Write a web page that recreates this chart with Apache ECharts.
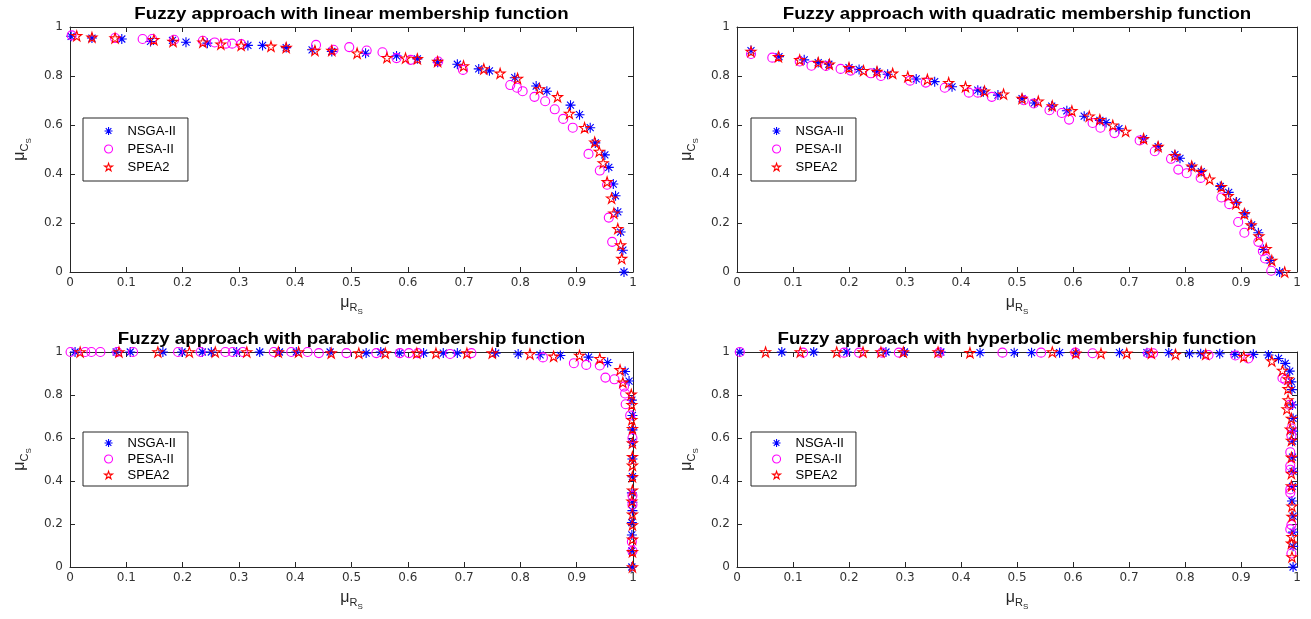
<!DOCTYPE html>
<html>
<head>
<meta charset="utf-8">
<script src="https://cdn.jsdelivr.net/npm/echarts@6/dist/echarts.min.js"></script>
<style>
html,body{margin:0;padding:0;background:#fff;}
#chart{width:1311px;height:619px;}
</style>
</head>
<body>
<div id="chart"></div>
<script>
// ---------- data ----------
const seriesNames = ['NSGA-II', 'PESA-II', 'SPEA2'];
const panelTitles = [
  'Fuzzy approach with linear membership function',
  'Fuzzy approach with quadratic membership function',
  'Fuzzy approach with parabolic membership function',
  'Fuzzy approach with hyperbolic membership function'
];
const xTickInterval = 0.1;
const yTickInterval = 0.2;

const linearNSGA = [[0.002,0.962],[0.039,0.955],[0.092,0.951],[0.143,0.941],[0.182,0.945],[0.206,0.938],[0.244,0.934],[0.316,0.925],[0.342,0.925],[0.384,0.916],[0.430,0.907],[0.465,0.900],[0.525,0.893],[0.580,0.882],[0.617,0.870],[0.653,0.856],[0.688,0.848],[0.726,0.829],[0.745,0.821],[0.790,0.793],[0.828,0.759],[0.847,0.738],[0.889,0.681],[0.905,0.642],[0.924,0.589],[0.933,0.527],[0.950,0.478],[0.957,0.427],[0.965,0.359],[0.969,0.311],[0.973,0.245],[0.978,0.163],[0.982,0.089],[0.984,0.000]];
const linearPESA = [[0.003,0.966],[0.080,0.955],[0.129,0.951],[0.146,0.951],[0.185,0.948],[0.236,0.944],[0.257,0.937],[0.277,0.932],[0.288,0.932],[0.304,0.930],[0.437,0.927],[0.468,0.907],[0.496,0.918],[0.527,0.904],[0.555,0.897],[0.580,0.873],[0.605,0.866],[0.654,0.859],[0.698,0.825],[0.782,0.763],[0.794,0.752],[0.804,0.738],[0.825,0.715],[0.844,0.697],[0.861,0.664],[0.876,0.625],[0.893,0.589],[0.921,0.482],[0.941,0.414],[0.954,0.356],[0.957,0.222],[0.963,0.123]];
const linearSPEA = [[0.012,0.964],[0.039,0.958],[0.080,0.955],[0.149,0.948],[0.183,0.941],[0.236,0.938],[0.268,0.930],[0.304,0.925],[0.357,0.921],[0.384,0.916],[0.435,0.904],[0.465,0.904],[0.510,0.893],[0.563,0.875],[0.596,0.873],[0.617,0.870],[0.653,0.859],[0.699,0.841],[0.735,0.829],[0.764,0.811],[0.795,0.790],[0.834,0.747],[0.866,0.715],[0.887,0.647],[0.914,0.589],[0.932,0.530],[0.940,0.492],[0.947,0.445],[0.954,0.368],[0.962,0.301],[0.966,0.240],[0.973,0.177],[0.978,0.110],[0.980,0.055]];

const quadNSGA = [[0.025,0.904],[0.075,0.879],[0.120,0.866],[0.145,0.855],[0.164,0.848],[0.200,0.834],[0.218,0.827],[0.250,0.818],[0.269,0.807],[0.320,0.788],[0.353,0.777],[0.384,0.756],[0.430,0.742],[0.440,0.736],[0.466,0.722],[0.509,0.708],[0.531,0.690],[0.562,0.677],[0.589,0.658],[0.620,0.636],[0.648,0.619],[0.659,0.610],[0.682,0.585],[0.726,0.544],[0.752,0.512],[0.782,0.479],[0.791,0.464],[0.812,0.432],[0.829,0.410],[0.863,0.349],[0.878,0.325],[0.892,0.286],[0.907,0.238],[0.919,0.192],[0.931,0.160],[0.940,0.092],[0.952,0.047],[0.969,0.000]];
const quadPESA = [[0.025,0.890],[0.063,0.875],[0.112,0.859],[0.133,0.842],[0.159,0.841],[0.185,0.829],[0.203,0.822],[0.239,0.811],[0.257,0.800],[0.309,0.781],[0.337,0.773],[0.371,0.752],[0.414,0.732],[0.430,0.732],[0.455,0.715],[0.512,0.701],[0.530,0.688],[0.558,0.660],[0.580,0.649],[0.593,0.622],[0.635,0.608],[0.649,0.589],[0.674,0.567],[0.719,0.537],[0.746,0.493],[0.775,0.462],[0.788,0.418],[0.803,0.403],[0.828,0.384],[0.865,0.304],[0.879,0.277],[0.895,0.204],[0.906,0.160],[0.931,0.123],[0.939,0.085],[0.943,0.055],[0.954,0.005]];
const quadSPEA = [[0.025,0.900],[0.074,0.879],[0.112,0.866],[0.145,0.855],[0.165,0.848],[0.200,0.834],[0.226,0.822],[0.250,0.818],[0.278,0.811],[0.305,0.797],[0.340,0.786],[0.378,0.773],[0.408,0.756],[0.442,0.738],[0.476,0.726],[0.509,0.708],[0.538,0.697],[0.563,0.678],[0.598,0.658],[0.629,0.636],[0.648,0.622],[0.671,0.599],[0.694,0.574],[0.726,0.544],[0.752,0.512],[0.782,0.475],[0.812,0.432],[0.829,0.410],[0.844,0.379],[0.865,0.348],[0.877,0.311],[0.891,0.279],[0.906,0.238],[0.918,0.192],[0.932,0.147],[0.945,0.095],[0.955,0.047],[0.978,0.000]];

const paraNSGA = [[0.009,1.0],[0.082,1.0],[0.107,1.0],[0.165,1.0],[0.199,1.0],[0.235,1.0],[0.251,1.0],[0.296,1.0],[0.337,1.0],[0.372,1.0],[0.402,1.0],[0.462,1.0],[0.526,0.995],[0.552,1.0],[0.585,0.995],[0.628,0.995],[0.663,0.995],[0.688,0.995],[0.756,0.995],[0.796,0.991],[0.835,0.987],[0.871,0.984],[0.921,0.976],[0.955,0.951],[0.986,0.909],[0.993,0.865],[0.998,0.776],[0.999,0.705],[0.999,0.638],[0.999,0.580],[0.999,0.502],[0.999,0.420],[0.998,0.345],[0.999,0.301],[0.999,0.262],[0.998,0.207],[0.998,0.149],[0.998,0.075],[0.998,0.0]];
const paraPESA = [[0.001,1.0],[0.027,1.0],[0.038,1.0],[0.054,1.0],[0.084,1.0],[0.112,1.0],[0.192,1.0],[0.232,1.0],[0.276,1.0],[0.289,1.0],[0.307,1.0],[0.362,1.0],[0.393,1.0],[0.422,1.0],[0.442,0.995],[0.491,0.995],[0.544,0.995],[0.586,0.995],[0.602,0.995],[0.618,0.995],[0.675,0.991],[0.713,0.995],[0.840,0.975],[0.895,0.948],[0.917,0.940],[0.941,0.937],[0.951,0.881],[0.967,0.873],[0.984,0.839],[0.986,0.807],[0.987,0.757],[0.995,0.705],[0.999,0.600],[0.999,0.332],[0.999,0.290],[0.998,0.118],[0.999,0.075]];
const paraSPEA = [[0.018,1.0],[0.087,1.0],[0.156,1.0],[0.212,1.0],[0.258,1.0],[0.314,1.0],[0.370,1.0],[0.406,1.0],[0.464,0.995],[0.513,0.995],[0.560,0.995],[0.616,0.995],[0.650,0.995],[0.705,0.995],[0.750,0.995],[0.817,0.991],[0.859,0.980],[0.905,0.984],[0.941,0.969],[0.977,0.917],[0.982,0.859],[0.997,0.803],[0.998,0.755],[0.998,0.685],[0.999,0.643],[0.999,0.577],[0.999,0.513],[0.999,0.473],[0.999,0.420],[0.999,0.357],[0.998,0.306],[0.999,0.246],[0.999,0.196],[0.999,0.129],[0.999,0.071],[0.999,0.0]];

const hypNSGA = [[0.005,1.0],[0.080,1.0],[0.137,1.0],[0.196,1.0],[0.266,1.0],[0.299,1.0],[0.364,1.0],[0.434,0.997],[0.495,0.997],[0.526,0.997],[0.576,0.997],[0.605,0.997],[0.683,0.997],[0.732,0.997],[0.771,0.997],[0.808,0.992],[0.828,0.992],[0.862,0.992],[0.889,0.989],[0.922,0.989],[0.949,0.986],[0.967,0.970],[0.979,0.947],[0.987,0.911],[0.990,0.861],[0.991,0.825],[0.992,0.754],[0.993,0.691],[0.993,0.632],[0.992,0.585],[0.992,0.511],[0.993,0.445],[0.992,0.375],[0.991,0.307],[0.993,0.237],[0.993,0.162],[0.993,0.096],[0.993,0.0]];
const hypPESA = [[0.005,1.0],[0.118,0.997],[0.191,0.997],[0.218,0.997],[0.259,0.997],[0.289,0.997],[0.361,0.997],[0.474,0.997],[0.543,0.997],[0.604,0.997],[0.635,0.994],[0.734,0.994],[0.743,0.994],[0.842,0.986],[0.890,0.984],[0.913,0.970],[0.974,0.879],[0.979,0.871],[0.987,0.754],[0.990,0.644],[0.990,0.612],[0.988,0.534],[0.988,0.471],[0.988,0.452],[0.988,0.361],[0.988,0.345],[0.990,0.196],[0.988,0.176],[0.990,0.063]];
const hypSPEA = [[0.051,1.0],[0.113,1.0],[0.178,1.0],[0.225,1.0],[0.257,1.0],[0.297,1.0],[0.359,1.0],[0.416,0.997],[0.563,1.0],[0.605,0.994],[0.650,0.994],[0.696,0.994],[0.740,0.994],[0.783,0.989],[0.837,0.989],[0.905,0.978],[0.955,0.958],[0.974,0.914],[0.984,0.874],[0.984,0.829],[0.984,0.777],[0.982,0.735],[0.990,0.691],[0.988,0.641],[0.990,0.589],[0.990,0.510],[0.990,0.435],[0.990,0.377],[0.991,0.283],[0.991,0.235],[0.991,0.141],[0.990,0.110],[0.991,0.047]];

const panelData = [
  [linearNSGA, linearPESA, linearSPEA],
  [quadNSGA, quadPESA, quadSPEA],
  [paraNSGA, paraPESA, paraSPEA],
  [hypNSGA, hypPESA, hypSPEA]
];

// ---------- layout / style ----------
const FONT = '"Liberation Sans", Arial, Helvetica, sans-serif';
const TICKFONT = '"DejaVu Sans", sans-serif';
const AX = '#262626';
const grids = [
  {left: 70, top: 27, width: 563, height: 245},
  {left: 737, top: 27, width: 560, height: 245},
  {left: 70, top: 352, width: 563, height: 215},
  {left: 737, top: 352, width: 560, height: 215}
];
const legendPos = [
  {left: 83, top: 118, gap: 4, pad: [6, 12, 7, 21]},
  {left: 751, top: 118, gap: 4, pad: [6, 12, 7, 21]},
  {left: 83, top: 432, gap: 2, pad: [4, 12, 4, 21]},
  {left: 751, top: 432, gap: 2, pad: [4, 12, 4, 21]}
];
const ASTER = 'path://M5,0L5,10M0,5L10,5M1.5,1.5L8.5,8.5M1.5,8.5L8.5,1.5';
const STAR = 'path://M10,0L12.245,6.91L19.51,6.91L13.63,11.18L15.88,18.09L10,13.82L4.12,18.09L6.37,11.18L0.49,6.91L7.755,6.91Z';
const styles = [
  {symbol: ASTER, size: 10, color: '#0000ff', fill: 'rgba(0,0,0,0)'},
  {symbol: 'circle', size: 9, color: '#ff00ff', fill: 'rgba(0,0,0,0)'},
  {symbol: STAR, size: 10, color: '#ff0000', fill: 'rgba(0,0,0,0)'}
];

const nameRich = {
  m: {fontSize: 16, fontFamily: FONT, color: AX},
  c: {fontSize: 11, fontFamily: FONT, color: AX, padding: [9, 0, 0, 0]},
  s: {fontSize: 8, fontFamily: FONT, color: AX, padding: [18, 0, 0, 0]}
};

const xAxes = [], yAxes = [], series = [], legends = [], graphics = [];
grids.forEach((g, i) => {
  const base = {gridIndex: i, min: 0, max: 1, type: 'value'};
  xAxes.push(Object.assign({}, base, {
    interval: xTickInterval, position: 'bottom',
    axisLine: {show: true, onZero: false, lineStyle: {color: AX, width: 1}},
    axisTick: {show: true, inside: true, length: 5, lineStyle: {color: AX}},
    axisLabel: {color: '#333', fontSize: 12, fontFamily: TICKFONT, margin: 5},
    splitLine: {show: false},
    name: '{m|μ}{c|R}{s|S}', nameLocation: 'middle', nameGap: 18,
    nameTextStyle: {rich: nameRich}
  }));
  xAxes.push(Object.assign({}, base, {
    interval: xTickInterval, position: 'top',
    axisLine: {show: true, onZero: false, lineStyle: {color: AX, width: 1}},
    axisTick: {show: true, inside: true, length: 5, lineStyle: {color: AX}},
    axisLabel: {show: false}, splitLine: {show: false}
  }));
  yAxes.push(Object.assign({}, base, {
    interval: yTickInterval, position: 'left',
    axisLine: {show: true, onZero: false, lineStyle: {color: AX, width: 1}},
    axisTick: {show: true, inside: true, length: 5, lineStyle: {color: AX}},
    axisLabel: {color: '#333', fontSize: 12, fontFamily: TICKFONT, margin: 7},
    splitLine: {show: false},
    name: '{m|μ}{c|C}{s|S}', nameLocation: 'middle', nameGap: 37, nameRotate: 90,
    nameTextStyle: {rich: nameRich}
  }));
  yAxes.push(Object.assign({}, base, {
    interval: yTickInterval, position: 'right',
    axisLine: {show: true, onZero: false, lineStyle: {color: AX, width: 1}},
    axisTick: {show: true, inside: true, length: 5, lineStyle: {color: AX}},
    axisLabel: {show: false}, splitLine: {show: false}
  }));
  panelData[i].forEach((d, k) => {
    const st = styles[k];
    series.push({
      type: 'scatter', name: seriesNames[k],
      xAxisIndex: 2 * i, yAxisIndex: 2 * i,
      data: d, symbol: st.symbol, symbolSize: st.size,
      clip: false,
      itemStyle: {color: st.fill, borderColor: st.color, borderWidth: 1.1, opacity: 1},
      emphasis: {disabled: true},
      z: 2 + k
    });
  });
  const lp = legendPos[i];
  legends.push({
    orient: 'vertical', left: lp.left, top: lp.top,
    data: seriesNames.map((n, k) => ({name: n, icon: styles[k].symbol,
      itemStyle: {color: styles[k].fill, borderColor: styles[k].color, borderWidth: 1.1}})),
    itemWidth: 8, itemHeight: 8, itemGap: lp.gap,
    padding: lp.pad,
    borderColor: AX, borderWidth: 1, backgroundColor: '#fff',
    textStyle: {fontSize: 13, fontFamily: FONT, color: '#000', padding: [0, 0, 0, 10], lineHeight: 14},
    selectedMode: false
  });
  graphics.push({
    type: 'text', x: g.left + g.width / 2, y: g.top - 13, scaleX: 1.1,
    style: {text: panelTitles[i], fill: '#000', font: 'bold 17px ' + FONT,
      textAlign: 'center', textVerticalAlign: 'middle'}
  });
});

const chart = echarts.init(document.getElementById('chart'), null, {renderer: 'canvas'});
chart.setOption({
  backgroundColor: '#fff',
  animation: false,
  grid: grids.map(g => Object.assign({containLabel: false}, g)),
  xAxis: xAxes,
  yAxis: yAxes,
  legend: legends,
  series: series,
  graphic: graphics
});
</script>
</body>
</html>
